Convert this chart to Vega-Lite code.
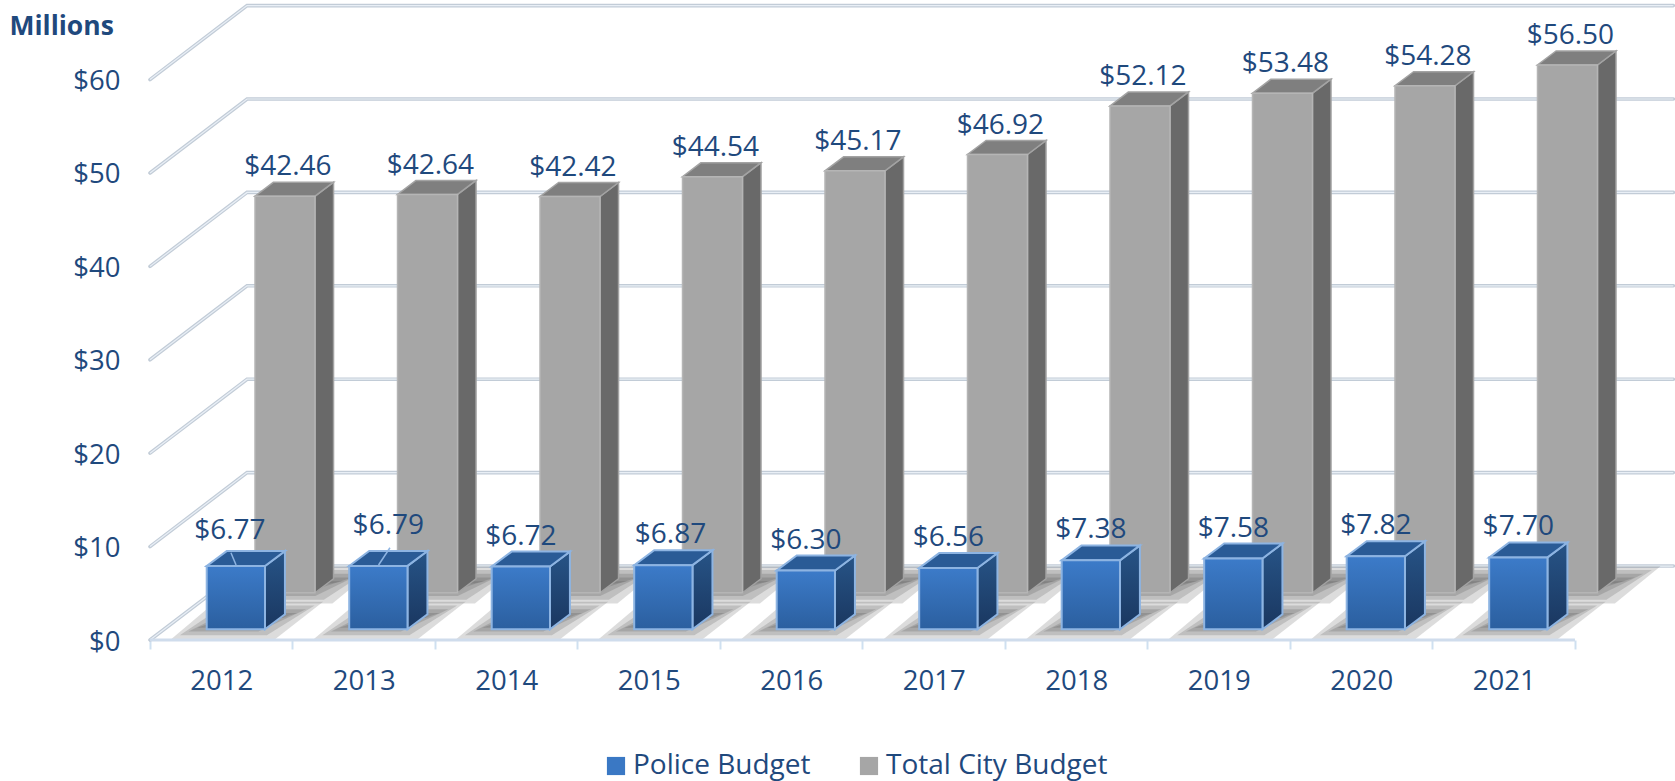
{
"$schema":"https://vega.github.io/schema/vega-lite/v6.json",
"width":1525,"height":640,"autosize":{"type":"none"},
"padding":{"left":150,"top":0,"right":0,"bottom":141},
"background":"white",
"config":{"view":{"stroke":null},"font":"Open Sans"},
"datasets":{
"grid":[{"v":0},{"v":10},{"v":20},{"v":30},{"v":40},{"v":50},{"v":60}],
"budget":[
{"year":2012,"series":"Total City Budget","value":42.46},{"year":2013,"series":"Total City Budget","value":42.64},{"year":2014,"series":"Total City Budget","value":42.42},{"year":2015,"series":"Total City Budget","value":44.54},{"year":2016,"series":"Total City Budget","value":45.17},{"year":2017,"series":"Total City Budget","value":46.92},{"year":2018,"series":"Total City Budget","value":52.12},{"year":2019,"series":"Total City Budget","value":53.48},{"year":2020,"series":"Total City Budget","value":54.28},{"year":2021,"series":"Total City Budget","value":56.50},
{"year":2012,"series":"Police Budget","value":6.77},{"year":2013,"series":"Police Budget","value":6.79},{"year":2014,"series":"Police Budget","value":6.72},{"year":2015,"series":"Police Budget","value":6.87},{"year":2016,"series":"Police Budget","value":6.30},{"year":2017,"series":"Police Budget","value":6.56},{"year":2018,"series":"Police Budget","value":7.38},{"year":2019,"series":"Police Budget","value":7.58},{"year":2020,"series":"Police Budget","value":7.82},{"year":2021,"series":"Police Budget","value":7.70}
]},
"encoding":{
 "x":{"type":"quantitative","scale":{"domain":[0,10.702],"nice":false,"zero":false},
  "axis":{"values":[0,1,2,3,4,5,6,7,8,9,10],"title":null,"domain":false,"grid":false,"ticks":true,"tickColor":"#cfe0f0","tickWidth":2,"tickSize":9,"labelExpr":"datum.value<10?''+(2012+datum.value):''","labelOffset":71.25,"labelFont":"Open Sans","labelFontSize":27.5,"labelColor":"#1f497d","labelPadding":18,"labelFlush":false,"labelOverlap":false}},
 "y":{"type":"quantitative","scale":{"domain":[0,68.52],"nice":false,"zero":false},
  "axis":{"values":[0,10,20,30,40,50,60],"title":"Millions","titleAngle":0,"titleX":-141,"titleY":26,"titleAlign":"left","titleBaseline":"middle","titleFont":"Open Sans","titleFontSize":26.5,"titleFontWeight":"bold","titleColor":"#1f497d","domain":false,"grid":false,"ticks":false,"labelExpr":"'$'+datum.value","labelFont":"Open Sans","labelFontSize":27.5,"labelColor":"#1f497d","labelPadding":30,"labelOffset":2,"labelOverlap":false,"labelFlush":false}}
},
"layer":[
{"data":{"name":"grid"},
 "transform":[{"calculate":"[0,1,2]","as":"k"},{"flatten":["k"]},
  {"calculate":"[0,0.681,10.69][datum.k]","as":"gx"},
  {"calculate":"datum.v+[0,7.92,7.92][datum.k]","as":"gy"}],
 "layer":[
  {"mark":{"type":"line","stroke":"#c2ccd7","strokeWidth":3.6,"strokeCap":"round"},
   "encoding":{"x":{"field":"gx"},"y":{"field":"gy"},"detail":{"field":"v"}}},
  {"mark":{"type":"line","stroke":"#e9eff6","strokeWidth":1.2},
   "encoding":{"x":{"field":"gx"},"y":{"field":"gy"},"detail":{"field":"v"}}}
 ]},
{"data":{"name":"budget"},
 "transform":[
  {"calculate":"datum.year-2012","as":"i"},
  {"calculate":"datum.series==='Police Budget'","as":"isP"},
  {"calculate":"datum.i+(datum.isP?0.398:0.737)","as":"x0"},
  {"calculate":"datum.i+(datum.isP?0.807:1.158)","as":"x1"},
  {"calculate":"datum.isP?0.14:0.13","as":"ddx"},
  {"calculate":"datum.isP?1.6:1.5","as":"ddy"},
  {"calculate":"datum.isP?1.146:5.06","as":"base"},
  {"calculate":"datum.base+datum.value","as":"top"},
  {"calculate":"(datum.x0+datum.x1)/2+(datum.isP?(datum.year===2012?-0.042:datum.year===2013?0.07:datum.year===2015?0.05:0):0.02)","as":"lx"},
  {"calculate":"datum.top+datum.ddy+1.6+(datum.isP?(datum.year===2012?0.535:datum.year===2013?1.07:0):0)","as":"ly"},
  {"calculate":"[0,1,2,3,4]","as":"lv"},
  {"calculate":"[0,1]","as":"k"}
 ],
 "layer":[
  {"transform":[{"filter":"!datum.isP"}],
   "layer":[
    {"transform":[{"flatten":["lv"]},{"flatten":["k"]},
      {"calculate":"3.9+datum.lv*0.4+datum.k*(4-2*datum.lv*0.4)","as":"sy"},
      {"calculate":"datum.i+0.55+datum.lv*0.06+datum.k*0.3","as":"sa"},
      {"calculate":"datum.i+1.28-datum.lv*0.06+datum.k*0.32","as":"sb"}],
     "mark":{"type":"area","orient":"horizontal","fill":"#303030","opacity":0.17},
     "encoding":{"y":{"field":"sy"},"x":{"field":"sa"},"x2":{"field":"sb"},"detail":[{"field":"year"},{"field":"lv"}]}},
    {"transform":[{"flatten":["k"]},{"calculate":"datum.x1+datum.k*datum.ddx","as":"fx"},{"calculate":"datum.base+datum.k*datum.ddy","as":"fy0"},{"calculate":"datum.top+datum.k*datum.ddy","as":"fy1"}],
     "mark":{"type":"area","orient":"vertical","fill":"#696969","stroke":"#a3a3a3","strokeWidth":1.5},
     "encoding":{"x":{"field":"fx"},"y":{"field":"fy0"},"y2":{"field":"fy1"},"detail":{"field":"year"}}},
    {"transform":[{"flatten":["k"]},{"calculate":"datum.x0+datum.k*datum.ddx","as":"fx0"},{"calculate":"datum.x1+datum.k*datum.ddx","as":"fx1"},{"calculate":"datum.top+datum.k*datum.ddy","as":"fy"}],
     "mark":{"type":"area","orient":"horizontal","fill":"#7f7f7f","stroke":"#a3a3a3","strokeWidth":1.5},
     "encoding":{"y":{"field":"fy"},"x":{"field":"fx0"},"x2":{"field":"fx1"},"detail":{"field":"year"}}},
    {"mark":{"type":"rect","stroke":"#b5b5b5","strokeWidth":1.5},
     "encoding":{"x":{"field":"x0"},"x2":{"field":"x1"},"y":{"field":"base"},"y2":{"field":"top"},
      "color":{"field":"series","type":"nominal","scale":{"domain":["Police Budget","Total City Budget"],"range":["#3a78c4","#a6a6a6"]},
       "legend":{"title":null,"orient":"none","legendX":452,"legendY":752,"direction":"horizontal","symbolType":"square","symbolSize":330,"symbolStrokeWidth":0,"labelFont":"Open Sans","labelFontSize":28,"labelColor":"#1f497d","labelOffset":3,"columnPadding":44,"labelLimit":400,"padding":0}}}}
   ]},
  {"transform":[{"filter":"datum.isP"}],
   "layer":[
    {"transform":[{"flatten":["lv"]},{"flatten":["k"]},
      {"calculate":"0.1+datum.lv*0.4+datum.k*(4-2*datum.lv*0.4)","as":"sy"},
      {"calculate":"datum.i+0.15+datum.lv*0.06+datum.k*0.31","as":"sa"},
      {"calculate":"datum.i+0.88-datum.lv*0.06+datum.k*0.335","as":"sb"}],
     "mark":{"type":"area","orient":"horizontal","fill":"#303030","opacity":0.17},
     "encoding":{"y":{"field":"sy"},"x":{"field":"sa"},"x2":{"field":"sb"},"detail":[{"field":"year"},{"field":"lv"}]}},
    {"transform":[{"flatten":["k"]},{"calculate":"datum.x1+datum.k*datum.ddx","as":"fx"},{"calculate":"datum.base+datum.k*datum.ddy","as":"fy0"},{"calculate":"datum.top+datum.k*datum.ddy","as":"fy1"}],
     "mark":{"type":"area","orient":"vertical","fill":{"gradient":"linear","x1":0,"y1":0,"x2":0,"y2":1,"stops":[{"offset":0,"color":"#275487"},{"offset":1,"color":"#1a3760"}]},"stroke":"#8db4e2","strokeWidth":2},
     "encoding":{"x":{"field":"fx"},"y":{"field":"fy0"},"y2":{"field":"fy1"},"detail":{"field":"year"}}},
    {"transform":[{"flatten":["k"]},{"calculate":"datum.x0+datum.k*datum.ddx","as":"fx0"},{"calculate":"datum.x1+datum.k*datum.ddx","as":"fx1"},{"calculate":"datum.top+datum.k*datum.ddy","as":"fy"}],
     "mark":{"type":"area","orient":"horizontal","fill":"#2a5b96","stroke":"#8db4e2","strokeWidth":2},
     "encoding":{"y":{"field":"fy"},"x":{"field":"fx0"},"x2":{"field":"fx1"},"detail":{"field":"year"}}},
    {"mark":{"type":"rect"},
     "encoding":{"x":{"field":"x0"},"x2":{"field":"x1"},"y":{"field":"base"},"y2":{"field":"top"},
      "color":{"field":"series","type":"nominal","scale":{"domain":["Police Budget","Total City Budget"],"range":["#3a78c4","#a6a6a6"]},
       "legend":{"title":null,"orient":"none","legendX":452,"legendY":752,"direction":"horizontal","symbolType":"square","symbolSize":330,"symbolStrokeWidth":0,"labelFont":"Open Sans","labelFontSize":28,"labelColor":"#1f497d","labelOffset":3,"columnPadding":44,"labelLimit":400,"padding":0}}}},
    {"mark":{"type":"rect","fill":{"gradient":"linear","x1":0,"y1":0,"x2":0,"y2":1,"stops":[{"offset":0,"color":"#3c7bc9"},{"offset":1,"color":"#2b5f9f"}]},"stroke":"#8db4e2","strokeWidth":2},
     "encoding":{"x":{"field":"x0"},"x2":{"field":"x1"},"y":{"field":"base"},"y2":{"field":"top"}}},
    {"transform":[{"filter":"datum.year===2012||datum.year===2013"},
      {"calculate":"datum.i+0.604","as":"a0"},{"calculate":"datum.i+(datum.year===2012?0.568:0.684)","as":"a1"},
      {"calculate":"8.03","as":"b0"},{"calculate":"datum.year===2012?9.35:9.88","as":"b1"}],
     "mark":{"type":"rule","stroke":"#8db4e2","strokeWidth":1.5},
     "encoding":{"x":{"field":"a0"},"x2":{"field":"a1"},"y":{"field":"b0"},"y2":{"field":"b1"}}}
   ]},
  {"transform":[{"filter":"datum.year===2012&&datum.isP"},{"calculate":"0","as":"a0"},{"calculate":"10","as":"a1"},{"calculate":"0","as":"b0"}],
   "mark":{"type":"rule","stroke":"#cfdcec","strokeWidth":3},
   "encoding":{"x":{"field":"a0"},"x2":{"field":"a1"},"y":{"field":"b0"}}},
  {"mark":{"type":"text","font":"Open Sans","fontSize":28,"fill":"#1f497d","baseline":"middle","align":"center"},
   "encoding":{"x":{"field":"lx"},"y":{"field":"ly"},
    "text":{"field":"value","type":"quantitative","format":"$.2f"}}}
 ]}
]
}
